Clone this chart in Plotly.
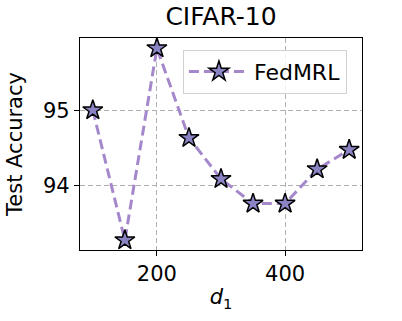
import plotly.graph_objects as go

d1 = [100, 150, 200, 250, 300, 350, 400, 450, 500]
acc = [95.01, 93.27, 95.84, 94.64, 94.09, 93.76, 93.76, 94.22, 94.48]
series_name = "FedMRL"
x_ticks = [200, 400]
y_ticks = [94, 95]

fig = go.Figure()
fig.add_trace(go.Scatter(
    x=d1, y=acc, name=series_name, mode="lines+markers",
    line=dict(color="#a588cb", width=3, dash="10px,5px"),
    marker=dict(symbol="star", size=15, color="#8a84c4",
                line=dict(color="black", width=1.5)),
))

font = "DejaVu Sans, sans-serif"
fig.update_layout(
    width=402, height=321,
    margin=dict(l=80, r=40, t=38, b=71),
    paper_bgcolor="white", plot_bgcolor="white",
    font=dict(family=font, size=21, color="black"),
    title=dict(text="CIFAR-10", x=(80 + 362) / 2 / 402, xanchor="center",
               y=1 - 16 / 321, yanchor="middle",
               font=dict(size=25, family=font, color="black")),
    showlegend=True,
    legend=dict(x=0.365, y=0.945, xanchor="left", yanchor="top",
                itemwidth=60,
                bgcolor="rgba(255,255,255,0.8)", bordercolor="#d0d0d0",
                borderwidth=1, font=dict(size=22, family=font)),
)
fig.update_xaxes(
    range=[80, 520], tickvals=x_ticks, ticks="outside", ticklen=5,
    tickwidth=1.2, tickcolor="black", showline=True, linecolor="black",
    linewidth=1.2, mirror=True, showgrid=True, gridcolor="#b0b0b0",
    griddash="5px,3px", gridwidth=1, zeroline=False,
    tickfont=dict(size=21, family=font),
    title=dict(text="<i>d</i><sub>1</sub>", font=dict(size=21, family=font), standoff=4),
)
fig.update_yaxes(
    range=[93.139, 95.977], tickvals=y_ticks, ticks="outside", ticklen=5,
    tickwidth=1.2, tickcolor="black", showline=True, linecolor="black",
    linewidth=1.2, mirror=True, showgrid=True, gridcolor="#b0b0b0",
    griddash="5px,3px", gridwidth=1, zeroline=False,
    tickfont=dict(size=21, family=font),
    title=dict(text="Test Accuracy", font=dict(size=21, family=font), standoff=14),
)
fig.write_html("out.html")
